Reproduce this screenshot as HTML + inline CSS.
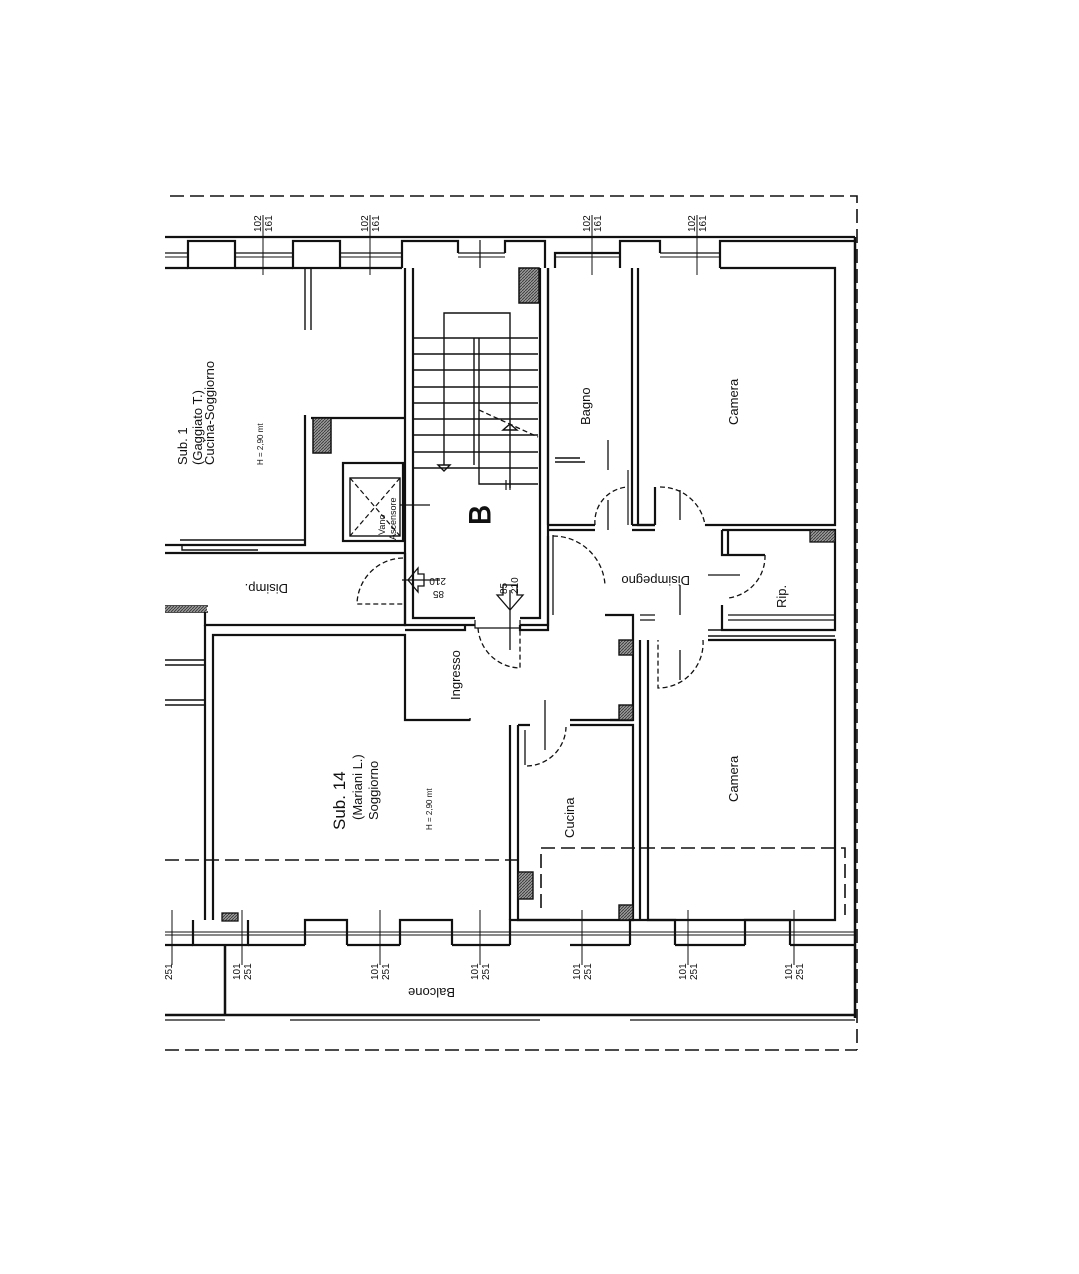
<!DOCTYPE html>
<html><head><meta charset="utf-8"><style>
html,body{margin:0;padding:0;background:#fff;}
svg{display:block;}
text{font-family:"Liberation Sans",sans-serif;fill:#111;}
</style></head><body>
<svg width="1079" height="1274" viewBox="0 0 1079 1274" xmlns="http://www.w3.org/2000/svg">
<defs>
<pattern id="h" width="3" height="3" patternUnits="userSpaceOnUse"><rect width="3" height="3" fill="#999"/><path d="M0 3L3 0" stroke="#333" stroke-width="0.8"/></pattern>
</defs>
<g fill="none" stroke="#111" stroke-width="1.6" stroke-dasharray="14 6">
<path d="M170 196H857V1050"/>
<path d="M165 1050H857"/>
<path d="M165 860H518"/>
<path d="M541 908V848H845V915"/>
</g>
<g fill="none" stroke="#111" stroke-width="2.2">
<path d="M165 237H855"/>
<path d="M165 268H188M235 268H293M340 268H402"/>
<rect x="188" y="241" width="47" height="27" fill="#fff"/>
<rect x="293" y="241" width="47" height="27" fill="#fff"/>
<path d="M402 268V241H458V253M505 253V241H545V268"/>
<path d="M555 268V253H620M620 268V241H660V253M720 268V253"/>
<path d="M720 253V241H855"/>
<path d="M165 253H188M235 253H293M340 253H402M458 253H505M555 253H620M660 253H720" stroke-width="1.2"/>
<path d="M165 257H188M235 257H293M340 257H402M458 257H505M555 257H620M660 257H720" stroke-width="1"/>
<path d="M855 237V1018" stroke-width="2.5"/>
<path d="M405 268V625H475M520 625H548V268"/>
<path d="M413 268V618H475M520 618H540V268"/>
<rect x="519" y="268" width="20" height="35" fill="url(#h)" stroke="#111" stroke-width="1.5"/>
<path d="M413 338H538M413 354H538M413 370H538M413 387H538M413 403H538M413 419H538M413 435H538M413 452H538M413 468H538" stroke-width="1.5"/>
<path d="M474 338V465M479 338V484H538" stroke-width="1.4"/>
<path d="M444 465V313H510V488" stroke-width="1.4"/>
<path d="M479 410L538 437" stroke-dasharray="5 3" stroke-width="1.3"/>
<path d="M438 465H450L444 471Z M503 430H517L510 424Z" stroke-width="1.4"/>
<path d="M510 480V490M506 480V490" stroke-width="1.2"/>
<path d="M480 240V268" stroke-width="1.2"/>
<path d="M305 268V330M311 268V330" stroke-width="1.4"/>
<path d="M305 415V545H165M311 418H405"/>
<rect x="313" y="418" width="18" height="35" fill="url(#h)" stroke="#111" stroke-width="1.5"/>
<rect x="343" y="463" width="60" height="78"/>
<rect x="350" y="478" width="50" height="58" stroke-width="1.4"/>
<path d="M350 478L400 536M400 478L350 536" stroke-dasharray="5 3" stroke-width="1.2"/>
<path d="M400 505H430" stroke-width="1.3"/>
<path d="M180 540H305M182 545V550H258" stroke-width="1.4"/>
<path d="M165 553H405M205 610V625H405V553"/>
<path d="M165 612H208M165 606H208" stroke-width="1.4"/>
<rect x="165" y="606" width="42" height="6" fill="url(#h)" stroke="none"/>
<path d="M403 558A47 47 0 0 0 357 604H403" stroke-dasharray="5 3" stroke-width="1.3"/>
<path d="M402 580H440" stroke-width="1.3"/>
<path d="M418 568L408 580L418 592V586H424V574H418Z" stroke-width="1.3"/>
<path d="M213 920V635H405V720H470M213 635V920"/>
<path d="M205 625V920"/>
<path d="M165 660H205M165 700H205M165 665H205M165 705H205" stroke-width="1.4"/>
<path d="M405 630H465V625M520 625V630H548V536"/>
<path d="M475 620V628H520V620" stroke-width="1.2"/>
<path d="M478 628A43 43 0 0 0 520 668V628" stroke-dasharray="5 3" stroke-width="1.3"/>
<path d="M510 590V650" stroke-width="1.3"/>
<path d="M497 595L510 610L523 595H517V585H503V595Z" stroke-width="1.3"/>
<path d="M413 720H470V718" stroke-width="1.4"/>
<path d="M548 525H595M548 530H595M632 525H655M632 530H655"/>
<path d="M553 535V615" stroke-width="1.3"/>
<path d="M553 536A52 52 0 0 1 605 585" stroke-dasharray="5 3" stroke-width="1.3"/>
<path d="M605 615H633V720H610"/>
<path d="M620 720V705M570 720H633"/>
<rect x="619" y="640" width="14" height="15" fill="url(#h)" stroke="#111" stroke-width="1.4"/>
<rect x="619" y="705" width="14" height="15" fill="url(#h)" stroke="#111" stroke-width="1.4"/>
<path d="M545 700V750" stroke-width="1.3"/>
<path d="M548 268V525M632 268V525"/>
<path d="M555 458H580M555 462H585" stroke-width="1.4"/>
<path d="M608 440V470M608 500V530" stroke-width="1.3"/>
<path d="M628 470V525" stroke-width="1.2"/>
<path d="M595 525A35 35 0 0 1 628 487" stroke-dasharray="5 3" stroke-width="1.3"/>
<path d="M638 268V525H655M655 487V525M705 525H835V268H720"/>
<path d="M660 487A45 45 0 0 1 705 525" stroke-dasharray="5 3" stroke-width="1.3"/>
<path d="M680 490V520" stroke-width="1.3"/>
<path d="M722 530H835V630H722V605M722 530V555H765M728 555V530"/>
<rect x="810" y="530" width="25" height="12" fill="url(#h)" stroke="#111" stroke-width="1.3"/>
<path d="M765 555A42 42 0 0 1 728 598" stroke-dasharray="5 3" stroke-width="1.3"/>
<path d="M708 575H740" stroke-width="1.2"/>
<path d="M728 615H835M728 620H835" stroke-width="1.3"/>
<path d="M708 630H835M708 636H835" stroke-width="1.5"/>
<path d="M640 615H655M640 620H655" stroke-width="1.3"/>
<path d="M680 585V615M680 650V680" stroke-width="1.3"/>
<path d="M703 640A45 45 0 0 1 658 688V640" stroke-dasharray="5 3" stroke-width="1.3"/>
<path d="M640 640V920M648 640V920H835V640H708"/>
<path d="M510 725V920M518 725V920H633V725H570M518 725H530"/>
<path d="M525 730V765" stroke-width="1.3"/>
<path d="M527 766A40 40 0 0 0 566 727" stroke-dasharray="5 3" stroke-width="1.3"/>
<rect x="518" y="872" width="15" height="27" fill="url(#h)" stroke="#111" stroke-width="1.4"/>
<rect x="619" y="905" width="14" height="15" fill="url(#h)" stroke="#111" stroke-width="1.4"/>
<rect x="222" y="913" width="16" height="8" fill="url(#h)" stroke="#111" stroke-width="1.3"/>
<path d="M165 945H193M248 945H305M347 945H400M452 945H510M570 945H630M675 945H745M790 945H855"/>
<path d="M193 920V945H248V920M305 945V920H347V945M400 945V920H452V945M510 945V920H570M630 945V920H675V945M745 945V920H790V945" />
<path d="M165 932H855M165 935H855" stroke-width="1"/>
<path d="M225 945V1015M165 1015H855" stroke-width="2.5"/>
<path d="M165 1020H225M290 1020H540M630 1020H855" stroke-width="1.2"/>
<path d="M263 215V275M370 215V275M592 215V275M697 215V275" stroke-width="1"/>
<path d="M172 910V965M242 910V965M380 910V965M480 910V965M582 910V965M688 910V965M794 910V965" stroke-width="1"/>
</g>
<g font-size="10">
<text transform="translate(261,232) rotate(-90)">102</text>
<text transform="translate(272,232) rotate(-90)">161</text>
<text transform="translate(368,232) rotate(-90)">102</text>
<text transform="translate(379,232) rotate(-90)">161</text>
<text transform="translate(590,232) rotate(-90)">102</text>
<text transform="translate(601,232) rotate(-90)">161</text>
<text transform="translate(695,232) rotate(-90)">102</text>
<text transform="translate(706,232) rotate(-90)">161</text>
<text transform="translate(172,980) rotate(-90)">251</text>
<text transform="translate(240,980) rotate(-90)">101</text><text transform="translate(251,980) rotate(-90)">251</text>
<text transform="translate(378,980) rotate(-90)">101</text><text transform="translate(389,980) rotate(-90)">251</text>
<text transform="translate(478,980) rotate(-90)">101</text><text transform="translate(489,980) rotate(-90)">251</text>
<text transform="translate(580,980) rotate(-90)">101</text><text transform="translate(591,980) rotate(-90)">251</text>
<text transform="translate(686,980) rotate(-90)">101</text><text transform="translate(697,980) rotate(-90)">251</text>
<text transform="translate(792,980) rotate(-90)">101</text><text transform="translate(803,980) rotate(-90)">251</text>
<text transform="translate(507,594) rotate(-90)">85</text><text transform="translate(518,594) rotate(-90)">210</text>
<text transform="translate(446,578) rotate(180)">210</text><text transform="translate(444,591) rotate(180)">85</text>
</g>
<g font-size="13">
<text transform="translate(187,465) rotate(-90)">Sub. 1</text>
<text transform="translate(202,465) rotate(-90)">(Gaggiato T.)</text>
<text transform="translate(214,465) rotate(-90)">Cucina-Soggiorno</text>
<text transform="translate(590,425) rotate(-90)">Bagno</text>
<text transform="translate(738,425) rotate(-90)">Camera</text>
<text transform="translate(738,802) rotate(-90)">Camera</text>
<text transform="translate(460,700) rotate(-90)">Ingresso</text>
<text transform="translate(574,838) rotate(-90)">Cucina</text>
<text transform="translate(786,608) rotate(-90)">Rip.</text>
<text transform="translate(362,820) rotate(-90)">(Mariani L.)</text>
<text transform="translate(378,820) rotate(-90)">Soggiorno</text>
<text transform="translate(288,584) rotate(180)">Disimp.</text>
<text transform="translate(690,576) rotate(180)">Disimpegno</text>
<text transform="translate(455,988) rotate(180)">Balcone</text>
</g>
<text transform="translate(345,830) rotate(-90)" font-size="17">Sub. 14</text>
<text transform="translate(263,465) rotate(-90)" font-size="8">H = 2,90 mt</text>
<text transform="translate(432,830) rotate(-90)" font-size="8">H = 2,90 mt</text>
<text transform="translate(385,535) rotate(-90)" font-size="9">Vano</text>
<text transform="translate(396,540) rotate(-90)" font-size="9">Ascensore</text>
<text transform="translate(490,525) rotate(-90)" font-size="30" stroke="#111" stroke-width="1" fill="#fff">B</text>
</svg>
</body></html>
